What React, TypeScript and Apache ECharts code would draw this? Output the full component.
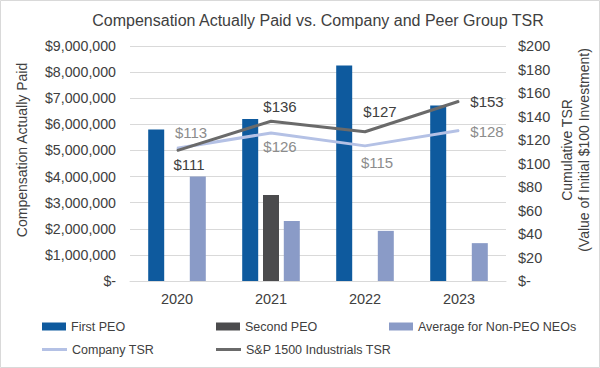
import React, { useEffect, useRef } from "react";
import * as echarts from "echarts";

const years = ["2020", "2021", "2022", "2023"];
const firstPEO = [5800000, 6200000, 8250000, 6720000];
const secondPEO = [null, 3290000, null, null];
const nonPEO = [4000000, 2300000, 1920000, 1450000];
const companyTSR = [113, 126, 115, 128];
const spTSR = [111, 136, 127, 153];
const leftMax = 9000000;
const leftStep = 1000000;
const rightMax = 200;
const rightStep = 20;

const FONT = "'Liberation Sans', Arial, sans-serif";

const companyOffsets = [
  [14, -16],
  [9, 14],
  [12, 17],
  [28, 1],
];
const spOffsets = [
  [12, 14],
  [9, -15],
  [15, -20],
  [28, 0],
];

function money(v: number) {
  if (v === 0) return "$-";
  return "$" + v.toLocaleString("en-US");
}

export default function App() {
  const ref = useRef<HTMLDivElement>(null);
  useEffect(() => {
    document.body.style.margin = "0";
    if (!ref.current) return;
    const chart = echarts.init(ref.current, undefined, { renderer: "svg" });
    const labelBase = { fontFamily: FONT, fontSize: 15 };
    const legendText = { fontFamily: FONT, fontSize: 12.5, color: "#404040" };
    const option: any = {
      animation: false,
      backgroundColor: "#fff",
      grid: { left: 130, right: 94, top: 46, bottom: 87, containLabel: false },
      xAxis: {
        type: "category",
        data: years,
        axisLine: { lineStyle: { color: "#D9D9D9", width: 1 } },
        axisTick: { show: false },
        axisLabel: { color: "#404040", fontFamily: FONT, fontSize: 14.5, margin: 10 },
      },
      yAxis: [
        {
          type: "value",
          min: 0,
          max: leftMax,
          interval: leftStep,
          position: "left",
          axisLine: { show: false },
          axisTick: { show: false },
          splitLine: { lineStyle: { color: "#D9D9D9", width: 1 } },
          axisLabel: {
            color: "#404040",
            fontFamily: FONT,
            fontSize: 14.2,
            margin: 14,
            formatter: (v: number) => money(v),
          },
        },
        {
          type: "value",
          min: 0,
          max: rightMax,
          interval: rightStep,
          position: "right",
          axisLine: { show: false },
          axisTick: { show: false },
          splitLine: { show: false },
          axisLabel: {
            color: "#404040",
            fontFamily: FONT,
            fontSize: 14.5,
            margin: 12,
            formatter: (v: number) => money(v),
          },
        },
      ],
      legend: [
        { data: ["First PEO"], left: 42, top: 320, icon: "rect", itemWidth: 24, itemHeight: 8, padding: 0, textStyle: legendText },
        { data: ["Second PEO"], left: 216, top: 320, icon: "rect", itemWidth: 24, itemHeight: 8, padding: 0, textStyle: legendText },
        { data: ["Average for Non-PEO NEOs"], left: 389, top: 320, icon: "rect", itemWidth: 24, itemHeight: 8, padding: 0, textStyle: legendText },
        { data: ["Company TSR"], left: 42, top: 343, icon: "rect", itemWidth: 25, itemHeight: 3, padding: 0, textStyle: legendText },
        { data: ["S&P 1500 Industrials TSR"], left: 216, top: 343, icon: "rect", itemWidth: 25, itemHeight: 3, padding: 0, textStyle: legendText },
      ],
      graphic: [
        {
          type: "rect",
          shape: { x: 0.5, y: 0.5, width: 599, height: 367 },
          style: { fill: "none", stroke: "#D9D9D9", lineWidth: 1 },
          silent: true,
        },
        {
          type: "text",
          x: 318,
          y: 20,
          style: {
            text: "Compensation Actually Paid vs. Company and Peer Group TSR",
            textAlign: "center",
            textVerticalAlign: "middle",
            fontFamily: FONT,
            fontSize: 16,
            fill: "#404040",
          },
        },
        {
          type: "text",
          x: 22,
          y: 150,
          rotation: Math.PI / 2,
          style: {
            text: "Compensation Actually Paid",
            textAlign: "center",
            textVerticalAlign: "middle",
            fontFamily: FONT,
            fontSize: 14,
            fill: "#404040",
          },
        },
        {
          type: "text",
          x: 567,
          y: 150,
          rotation: Math.PI / 2,
          style: {
            text: "Cumulative TSR",
            textAlign: "center",
            textVerticalAlign: "middle",
            fontFamily: FONT,
            fontSize: 14,
            fill: "#404040",
          },
        },
        {
          type: "text",
          x: 584,
          y: 150,
          rotation: Math.PI / 2,
          style: {
            text: "(Value of Initial $100 Investment)",
            textAlign: "center",
            textVerticalAlign: "middle",
            fontFamily: FONT,
            fontSize: 14,
            fill: "#404040",
          },
        },
      ],
      series: [
        {
          name: "First PEO",
          type: "bar",
          yAxisIndex: 0,
          data: firstPEO,
          barWidth: 16,
          barGap: "30%",
          itemStyle: { color: "#0E5A9E" },
        },
        {
          name: "Second PEO",
          type: "bar",
          yAxisIndex: 0,
          data: secondPEO,
          barWidth: 16,
          barGap: "30%",
          itemStyle: { color: "#4B4B4D" },
        },
        {
          name: "Average for Non-PEO NEOs",
          type: "bar",
          yAxisIndex: 0,
          data: nonPEO,
          barWidth: 16,
          barGap: "30%",
          itemStyle: { color: "#8A9BC7" },
        },
        {
          name: "Company TSR",
          type: "line",
          yAxisIndex: 1,
          symbol: "circle",
          symbolSize: 1,
          lineStyle: { color: "#B4C1E5", width: 3 },
          itemStyle: { color: "#B4C1E5" },
          data: companyTSR.map((v, i) => ({
            value: v,
            label: {
              show: true,
              position: "inside",
              offset: companyOffsets[i],
              formatter: "${c}",
              color: "#8C8C8C",
              ...labelBase,
            },
          })),
          z: 3,
        },
        {
          name: "S&P 1500 Industrials TSR",
          type: "line",
          yAxisIndex: 1,
          symbol: "circle",
          symbolSize: 1,
          lineStyle: { color: "#6A6A6A", width: 3 },
          itemStyle: { color: "#6A6A6A" },
          data: spTSR.map((v, i) => ({
            value: v,
            label: {
              show: true,
              position: "inside",
              offset: spOffsets[i],
              formatter: "${c}",
              color: "#404040",
              ...labelBase,
            },
          })),
          z: 4,
        },
      ],
    };
    chart.setOption(option);
    return () => chart.dispose();
  }, []);
  return <div ref={ref} style={{ width: 600, height: 368 }} />;
}
